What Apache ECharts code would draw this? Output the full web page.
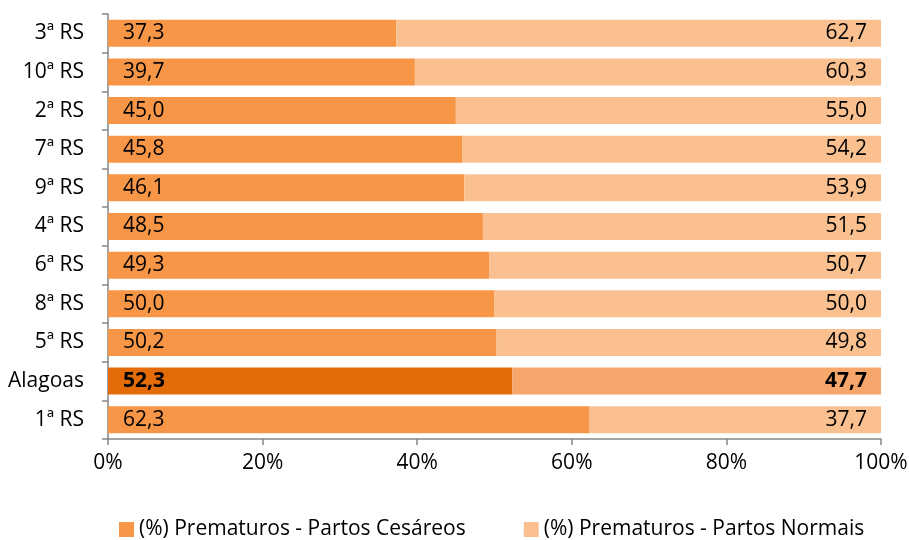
<!DOCTYPE html>
<html>
<head>
<meta charset="utf-8">
<script src="https://cdn.jsdelivr.net/npm/echarts@6/dist/echarts.min.js"></script>
<style>
  html, body { margin: 0; padding: 0; background: #fff; }
  #chart { width: 909px; height: 540px; }
</style>
</head>
<body>
<div id="chart"></div>
<script>
  // regiões de saúde, de cima para baixo
  const categories = ['3ª RS', '10ª RS', '2ª RS', '7ª RS', '9ª RS', '4ª RS', '6ª RS', '8ª RS', '5ª RS', 'Alagoas', '1ª RS'];
  const cesareos = [37.3, 39.7, 45.0, 45.8, 46.1, 48.5, 49.3, 50.0, 50.2, 52.3, 62.3];
  const normais = [62.7, 60.3, 55.0, 54.2, 53.9, 51.5, 50.7, 50.0, 49.8, 47.7, 37.7];
  const xTicks = [0, 20, 40, 60, 80, 100];

  const fmt = v => v.toFixed(1).replace('.', ',');
  const font = "'Open Sans', 'Noto Sans', sans-serif";
  const fs = 21;

  function buildData(values, color, hlColor) {
    return values.map((v, i) => {
      if (categories[i] === 'Alagoas') {
        return { value: v, itemStyle: { color: hlColor }, label: { fontWeight: 'bold' } };
      }
      return { value: v, itemStyle: { color: color } };
    });
  }

  let chart = echarts.init(document.getElementById('chart'));
  chart.setOption({
    animation: false,
    textStyle: { fontFamily: font },
    grid: { left: 108, right: 28, top: 14, bottom: 101, outerBoundsMode: 'none' },
    legend: {
      bottom: 0,
      left: 114,
      padding: [0, 5],
      itemWidth: 15,
      itemHeight: 15,
      itemGap: 58,
      icon: 'rect',
      textStyle: { fontSize: fs, color: '#000', fontFamily: font },
      data: ['(%) Prematuros - Partos Cesáreos', '(%) Prematuros - Partos Normais']
    },
    xAxis: {
      type: 'value',
      min: 0,
      max: 100,
      interval: 20,
      axisLine: { show: true, lineStyle: { color: '#868686', width: 1.5 } },
      axisTick: { show: true, length: 6, lineStyle: { color: '#868686', width: 1.5 } },
      splitLine: { show: false },
      axisLabel: {
        margin: 14,
        fontSize: fs,
        color: '#000',
        formatter: v => xTicks.indexOf(v) >= 0 ? v + '%' : ''
      }
    },
    yAxis: {
      type: 'category',
      inverse: true,
      data: categories,
      axisLine: { show: true, lineStyle: { color: '#868686', width: 1.5 } },
      axisTick: { show: true, length: 6, lineStyle: { color: '#868686', width: 1.5 } },
      axisLabel: { margin: 24, fontSize: fs, color: '#000' }
    },
    series: [
      {
        name: '(%) Prematuros - Partos Cesáreos',
        type: 'bar',
        stack: 'total',
        barWidth: 27,
        color: '#F79646',
        data: buildData(cesareos, '#F79646', '#E36C09'),
        label: {
          show: true,
          position: 'insideLeft',
          distance: 15,
          fontSize: fs,
          color: '#000',
          formatter: p => fmt(p.value)
        }
      },
      {
        name: '(%) Prematuros - Partos Normais',
        type: 'bar',
        stack: 'total',
        barWidth: 27,
        color: '#FAC090',
        data: buildData(normais, '#FAC090', '#F7A66B'),
        label: {
          show: true,
          position: 'insideRight',
          distance: 14,
          fontSize: fs,
          color: '#000',
          formatter: p => fmt(p.value)
        }
      }
    ]
  });
</script>
</body>
</html>
